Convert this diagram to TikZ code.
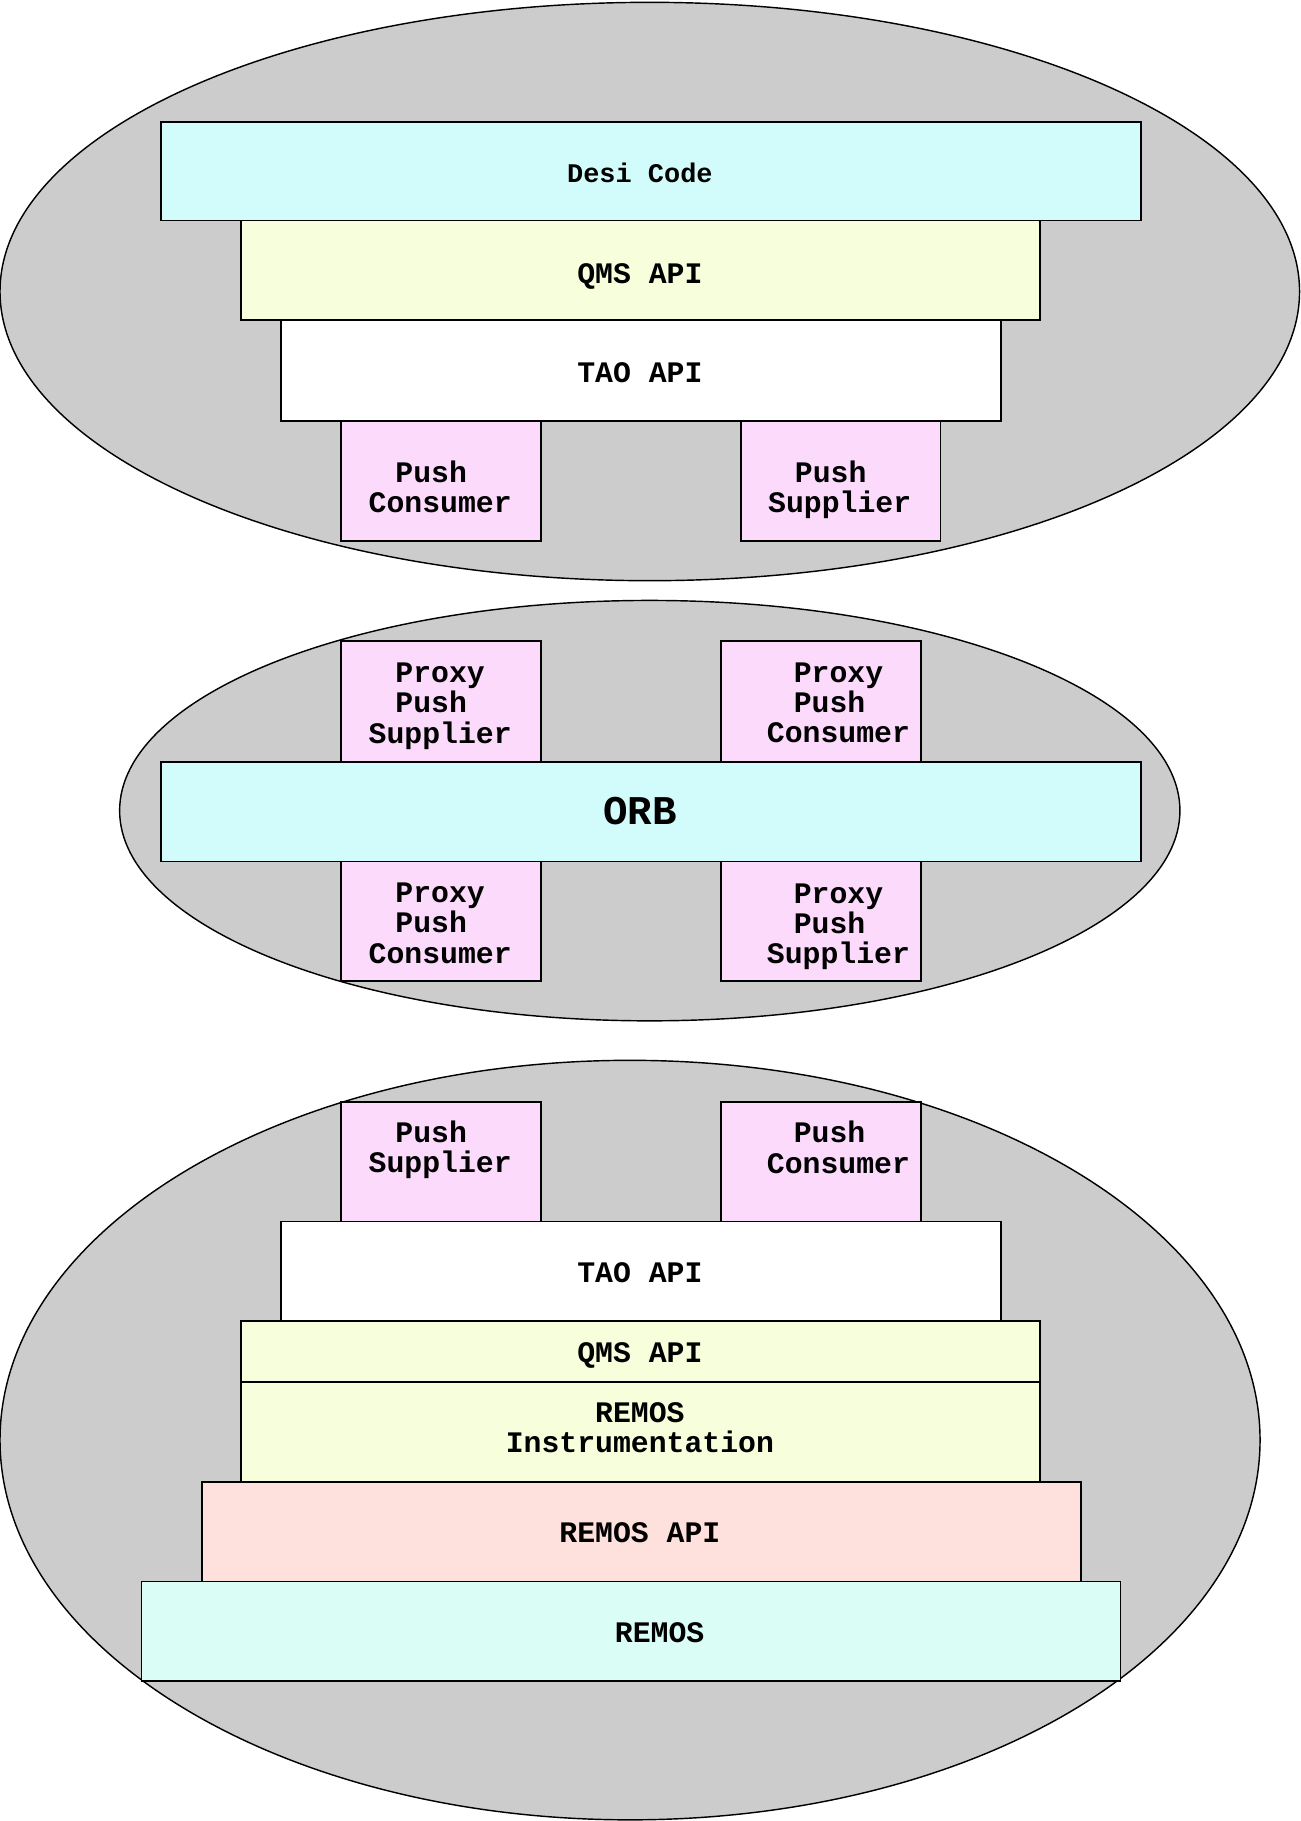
\documentclass[tikz,border=0pt]{standalone}
\usepackage{fontspec}
\setmonofont{Liberation Mono}
\usepackage{pgf, tikz}
\usetikzlibrary{shapes.geometric, positioning}

\definecolor{grau}{HTML}{CCCCCC}
\definecolor{cyanhell}{HTML}{D2FCFC}
\definecolor{gelbhell}{HTML}{F7FEDC}
\definecolor{rosa}{HTML}{FCDAFC}
\definecolor{lachs}{HTML}{FEE0DC}
\definecolor{mint}{HTML}{DAFEF6}

\begin{document}
\begin{tikzpicture}[x=0.1mm,y=-0.1mm,
  kreis/.style={ellipse, draw, fill=grau, inner sep=0pt, line width=0.35pt},
  schicht/.style={rectangle, draw, anchor=north west, inner sep=0pt, line width=0.45pt},
  proxy/.style={schicht, fill=rosa, minimum width=17.2mm, minimum height=10.3mm},
  txt/.style={inner sep=0pt, align=center, font=\ttfamily\bfseries\fontsize{7.3}{7.4}\selectfont}]
\useasboundingbox (0,0) rectangle (1120,1568);

%Ellipsen
\node (E1) [kreis, minimum width=111.9mm, minimum height=49.8mm] at (559.5,251) {};
\node (E2) [kreis, minimum width=91.3mm, minimum height=36.2mm] at (559.5,698) {};
\node (E3) [kreis, minimum width=108.5mm, minimum height=65.4mm] at (542.5,1240) {};

%Oben
\node (desi) [schicht, fill=cyanhell, minimum width=84.4mm, minimum height=8.5mm] at (138,104) {};
\node (qms1) [schicht, fill=gelbhell, minimum width=68.8mm, minimum height=8.6mm] at (207,189) {};
\node (tao1) [schicht, fill=white, minimum width=62mm, minimum height=8.7mm] at (241,275) {};
\node (pc1) [proxy] at (293,362) {};
\node (ps1) [proxy] at (637,362) {};

%Mitte
\node (pps1) [proxy, minimum height=10.4mm] at (293,551) {};
\node (ppc1) [proxy, minimum height=10.4mm] at (620,551) {};
\node (orb) [schicht, fill=cyanhell, minimum width=84.4mm, minimum height=8.6mm] at (138,655) {};
\node (ppc2) [proxy] at (293,741) {};
\node (pps2) [proxy] at (620,741) {};

%Unten
\node (ps2) [proxy] at (293,948) {};
\node (pc2) [proxy] at (620,948) {};
\node (tao2) [schicht, fill=white, minimum width=62mm, minimum height=8.6mm] at (241,1051) {};
\node (qms2) [schicht, fill=gelbhell, minimum width=68.8mm, minimum height=5.2mm] at (207,1137) {};
\node (instr) [schicht, fill=gelbhell, minimum width=68.8mm, minimum height=8.6mm] at (207,1189) {};
\node (rapi) [schicht, fill=lachs, minimum width=75.7mm, minimum height=8.6mm] at (173,1275) {};
\node (remos) [schicht, fill=mint, minimum width=84.3mm, minimum height=8.6mm] at (121,1361) {};

%Texte
\node (t-desi) [txt, font=\ttfamily\bfseries\fontsize{6.6}{7}\selectfont] at (551,149) {Desi Code};
\node (t-qms1) [txt] at (551,238) {QMS API};
\node (t-tao1) [txt] at (551,321) {TAO API};
\node (t-pc1) [txt] at (379,419) {Push\hphantom{x}\\Consumer};
\node (t-ps1) [txt] at (723,422) {Push\hphantom{x}\\Supplier};
\node (t-pps1) [txt] at (379,608) {Proxy\\Push\hphantom{x}\\Supplier};
\node (t-ppc1) [txt] at (722,605) {Proxy\\Push\hphantom{x}\\Consumer};
\node (t-orb) [txt, font=\ttfamily\bfseries\fontsize{10}{11}\selectfont] at (551,698) {ORB};
\node (t-ppc2) [txt] at (379,795) {Proxy\\Push\hphantom{x}\\Consumer};
\node (t-pps2) [txt] at (722,798) {Proxy\\Push\hphantom{x}\\Supplier};
\node (t-ps2) [txt] at (379,990) {Push\hphantom{x}\\Supplier};
\node (t-pc2) [txt] at (722,988) {Push\hphantom{x}\\Consumer};
\node (t-tao2) [txt] at (551,1096) {TAO API};
\node (t-qms2) [txt] at (551,1167) {QMS API};
\node (t-instr) [txt] at (551,1229) {REMOS\\Instrumentation};
\node (t-rapi) [txt] at (551,1320) {REMOS API};
\node (t-remos) [txt] at (568,1406) {REMOS};
\end{tikzpicture}
\end{document}
